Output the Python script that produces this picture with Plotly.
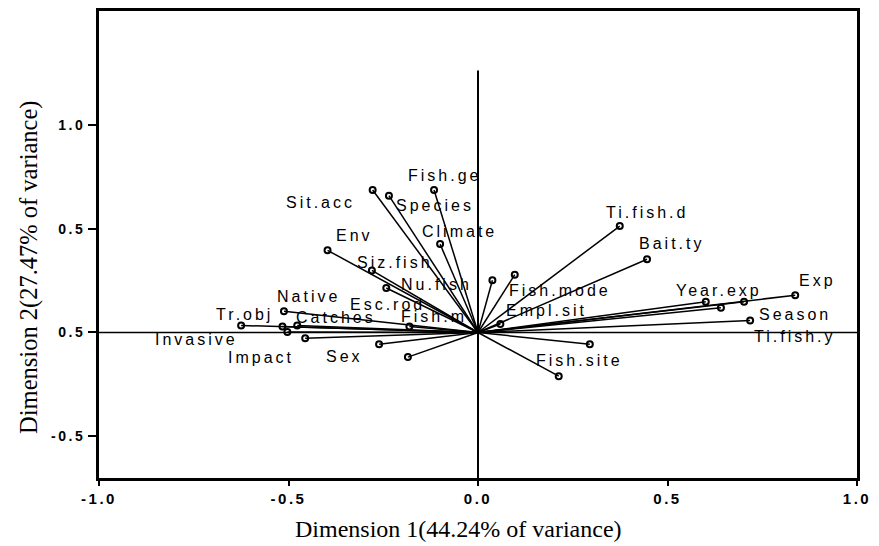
import plotly.graph_objects as go

# ---- data ----
variables = ["Sit.acc", "Species", "Fish.ge", "Climate", "Env", "Siz.fish", "Nu.fish",
             "Native", "Tr.obj", "Esc.rod", "Catches", "Invasive", "Impact", "Fish.m",
             "Sex", "", "", "Fish.mode", "Empl.sit", "Ti.fish.d", "Bait.ty", "Year.exp",
             "", "Ti.fish.y", "Exp", "Season", "Fish.site", ""]
dim1 = [-0.278, -0.235, -0.116, -0.100, -0.397, -0.280, -0.242,
        -0.512, -0.625, -0.516, -0.477, -0.503, -0.456, -0.181,
        -0.261, -0.185, 0.038, 0.097, 0.059, 0.374, 0.446, 0.601,
        0.641, 0.702, 0.837, 0.718, 0.295, 0.213]
dim2 = [0.688, 0.661, 0.688, 0.427, 0.397, 0.300, 0.215,
        0.103, 0.034, 0.029, 0.034, 0.002, -0.028, 0.029,
        -0.057, -0.119, 0.252, 0.279, 0.041, 0.514, 0.354, 0.148,
        0.119, 0.148, 0.180, 0.058, -0.057, -0.211]

x_tickvals = [-1.0, -0.5, 0.0, 0.5, 1.0]
x_ticktext = ["-1.0", "-0.5", "0.0", "0.5", "1.0"]
y_tickvals = [1.0, 0.5, 0.0, -0.5]
y_ticktext = ["1.0", "0.5", "0.5", "-0.5"]

x_title = "Dimension 1(44.24% of variance)"
y_title = "Dimension 2(27.47% of variance)"

# ---- styles: label offsets in pixels (dx right, dy down) ----
label_offsets = {
    "Fish.ge": (10.5, -15), "Sit.acc": (-52.6, 12.4), "Species": (46, 10.3),
    "Climate": (19.7, -12.8), "Env": (27, -15), "Siz.fish": (23, -8.3),
    "Nu.fish": (50.7, -3.7), "Native": (24.5, -14.3), "Esc.rod": (104.7, -21.7),
    "Tr.obj": (3.3, -11.4), "Catches": (38.4, -8), "Fish.m": (24.4, -10.4),
    "Invasive": (-90.8, 7.7), "Impact": (-44.3, 19), "Sex": (-34.5, 12.3),
    "Ti.fish.d": (27.3, -14), "Bait.ty": (24.7, -15.7), "Fish.mode": (44.8, 15.6),
    "Empl.sit": (45.8, -13.3), "Year.exp": (13.3, -11), "Exp": (22.3, -14.3),
    "Season": (44.4, -5.7), "Ti.fish.y": (50.7, 34.7), "Fish.site": (-10.4, 16.3),
}

X_RANGE = [-1.0, 1.0]
Y_RANGE = [-0.703, 1.553]
VLINE_TOP = 1.265


def spaced(t, ls):
    return f'<span style="letter-spacing:{ls}px">{t}</span>'


fig = go.Figure()

# vectors from origin
lx, ly = [], []
for x, y in zip(dim1, dim2):
    lx += [0, x, None]
    ly += [0, y, None]
fig.add_trace(go.Scatter(x=lx, y=ly, mode="lines",
                         line=dict(color="black", width=1.5),
                         hoverinfo="skip", showlegend=False))

fig.add_trace(go.Scatter(x=dim1, y=dim2, mode="markers", text=variables,
                         marker=dict(symbol="circle-open", size=6, color="black",
                                     line=dict(width=2, color="black")),
                         showlegend=False))

# reference lines
fig.add_shape(type="line", xref="x", yref="y", x0=X_RANGE[0], x1=X_RANGE[1], y0=0, y1=0,
              line=dict(color="black", width=1.5), layer="below")
fig.add_shape(type="line", xref="x", yref="y", x0=0, x1=0, y0=Y_RANGE[0], y1=VLINE_TOP,
              line=dict(color="black", width=2), layer="below")

# labels
for name, x, y in zip(variables, dim1, dim2):
    if not name:
        continue
    dx, dy = label_offsets[name]
    fig.add_annotation(x=x, y=y, xref="x", yref="y", text=spaced(name, 3),
                       showarrow=False, xanchor="center", yanchor="middle",
                       xshift=dx, yshift=-dy,
                       font=dict(family="Liberation Sans, Arial", size=16, color="black"))

# axis titles
fig.add_annotation(xref="paper", yref="paper", x=0.4745, y=0, yshift=-51,
                   text=x_title, showarrow=False, xanchor="center", yanchor="middle",
                   font=dict(family="Liberation Serif, Times New Roman", size=24, color="black"))
fig.add_annotation(xref="paper", yref="paper", x=0, y=0.451, xshift=-69.5,
                   text=y_title, showarrow=False, xanchor="center", yanchor="middle",
                   textangle=-90,
                   font=dict(family="Liberation Serif, Times New Roman", size=24.5, color="black"))

fig.update_layout(
    width=879, height=546,
    margin=dict(l=99, r=14, t=8, b=68),
    paper_bgcolor="white", plot_bgcolor="white",
    xaxis=dict(range=X_RANGE, tickvals=x_tickvals,
               ticktext=[spaced(f"<b>{t}</b>", 2.5) for t in x_ticktext],
               ticks="outside", ticklen=5, tickwidth=2, tickcolor="black",
               ticklabeloverflow="allow",
               showline=True, mirror=True, linecolor="black", linewidth=3,
               showgrid=False, zeroline=False,
               tickfont=dict(family="Liberation Sans, Arial", size=15, color="black")),
    yaxis=dict(range=Y_RANGE, tickvals=y_tickvals,
               ticktext=[spaced(f"<b>{t}</b>", 2.5) for t in y_ticktext],
               ticks="outside", ticklen=8, tickwidth=2, tickcolor="black",
               ticklabeloverflow="allow",
               showline=True, mirror=True, linecolor="black", linewidth=3,
               showgrid=False, zeroline=False,
               tickfont=dict(family="Liberation Sans, Arial", size=14, color="black")),
)

fig.write_html("out.html", config={"displayModeBar": False},
               post_script="document.body.style.margin='0';document.body.style.overflow='hidden';")
